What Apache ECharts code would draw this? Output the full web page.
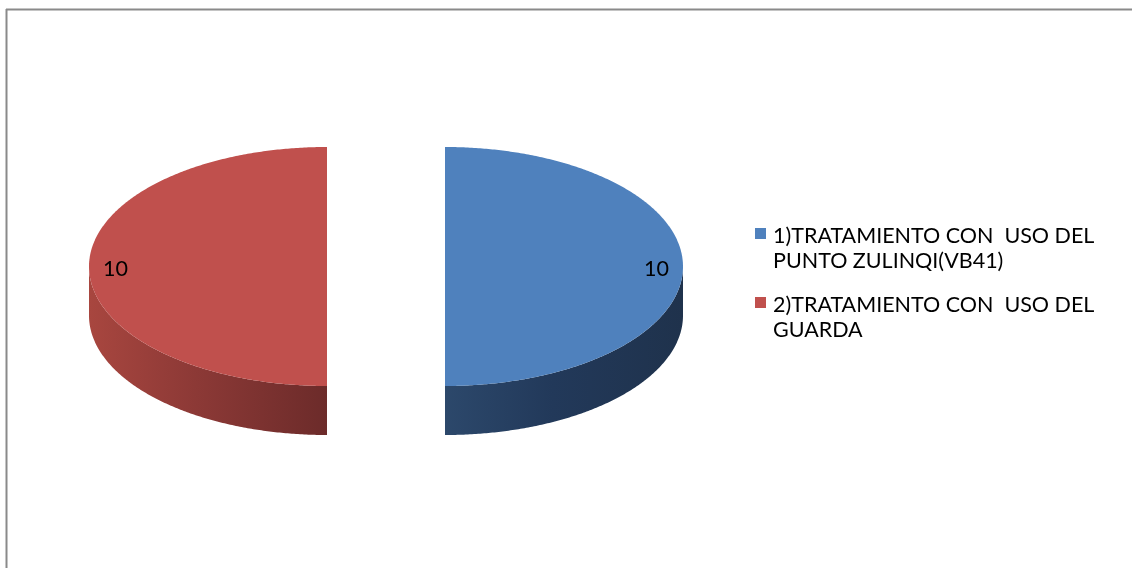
<!DOCTYPE html>
<html>
<head>
<meta charset="utf-8">
<style>
  html, body { margin: 0; padding: 0; background: #fff; }
  #chart { width: 1132px; height: 568px; }
</style>
<script src="https://cdn.jsdelivr.net/npm/echarts@6/dist/echarts.min.js"></script>
</head>
<body>
<div id="chart"></div>
<script>
// Two treatment groups, 10 patients each
const categories = [
  '1)TRATAMIENTO CON  USO DEL PUNTO ZULINQI(VB41)',
  '2)TRATAMIENTO CON  USO DEL GUARDA'
];
const values = [10, 10];
const legendLines = [
  ['1)TRATAMIENTO CON  USO DEL', 'PUNTO ZULINQI(VB41)'],
  ['2)TRATAMIENTO CON  USO DEL', 'GUARDA']
];

const topColors = ['#4f81bd', '#c0504d'];
const sideColors = [
  ['#2c486b', '#22395a', '#1f324c'],
  ['#a8463f', '#8c3936', '#6c2b2a']
];

// 3D pie geometry (pixels)
const PIE = { cx: 386, cy: 266.5, rx: 238, ry: 119.5, depth: 49, explode: 59 };
const FONT = 'Lato';
const FONT_SIZE = 21.5;

const total = values.reduce((a, b) => a + b, 0);
const slices = [];
let start = 90; // degrees, clockwise from the top
values.forEach((v, i) => {
  const sweep = v / total * 360;
  slices.push({ start: start, end: start - sweep, mid: start - sweep / 2 });
  start -= sweep;
});

const rad = d => d * Math.PI / 180;

function renderSlice(params, api) {
  const i = params.dataIndex;
  const s = slices[i];
  const m = rad(s.mid);
  const ox = PIE.cx + PIE.explode * Math.cos(m);
  const oy = PIE.cy - PIE.explode * (PIE.ry / PIE.rx) * Math.sin(m);
  const pt = (deg, dz) => [ox + PIE.rx * Math.cos(rad(deg)), oy - PIE.ry * Math.sin(rad(deg)) + (dz || 0)];

  // sample the arc
  const angles = [];
  const steps = Math.max(2, Math.ceil((s.start - s.end) / 0.5));
  for (let k = 0; k <= steps; k++) angles.push(s.start - (s.start - s.end) * k / steps);

  const children = [];

  // front-facing wall runs (lower half of the ellipse)
  let run = [];
  const runs = [];
  angles.forEach(a => {
    if (Math.sin(rad(a)) <= 1e-9) run.push(a);
    else if (run.length) { runs.push(run); run = []; }
  });
  if (run.length) runs.push(run);
  runs.forEach(r => {
    if (r.length < 2) return;
    const topPts = r.map(a => pt(a, 0));
    const botPts = r.slice().reverse().map(a => pt(a, PIE.depth));
    const c = sideColors[i];
    children.push({
      type: 'polygon',
      shape: { points: topPts.concat(botPts) },
      style: {
        fill: new echarts.graphic.LinearGradient(0, 0, 1, 0, [
          { offset: 0, color: c[0] },
          { offset: 0.45, color: c[1] },
          { offset: 1, color: c[2] }
        ])
      }
    });
  });

  // top face
  const face = [[ox, oy]].concat(angles.map(a => pt(a, 0)));
  children.push({
    type: 'polygon',
    shape: { points: face },
    style: { fill: topColors[i] }
  });

  // value label near the outer rim
  const right = Math.cos(m) >= 0;
  const lp = [ox + (PIE.rx - 14) * Math.cos(m), oy - (PIE.ry - 14) * Math.sin(m) + 2.5];
  children.push({
    type: 'text',
    x: lp[0], y: lp[1],
    style: {
      text: String(api.value(0)),
      fill: '#000',
      font: FONT_SIZE + 'px ' + FONT,
      align: right ? 'right' : 'left',
      verticalAlign: 'middle'
    }
  });

  return { type: 'group', children: children };
}

// legend block
const legendGraphics = [];
const legendX = 755, legendTop = [228, 297], lineGap = 25.5;
categories.forEach((name, i) => {
  legendGraphics.push({
    type: 'rect',
    shape: { x: legendX, y: legendTop[i], width: 11, height: 11 },
    style: { fill: topColors[i] }
  });
  legendLines[i].forEach((line, j) => {
    legendGraphics.push({
      type: 'text',
      x: legendX + 18,
      y: legendTop[i] + 8 + j * lineGap,
      style: {
        text: line, fill: '#000', font: FONT_SIZE + 'px ' + FONT,
        verticalAlign: 'middle', align: 'left'
      }
    });
  });
});

const chart = echarts.init(document.getElementById('chart'), null, { renderer: 'canvas' });
chart.setOption({
  animation: false,
  backgroundColor: '#ffffff',
  graphic: [
    { type: 'line', shape: { x1: 6, y1: 9.5, x2: 1132, y2: 9.5 }, style: { stroke: '#8a8a8a', lineWidth: 2 } },
    { type: 'line', shape: { x1: 6.5, y1: 9, x2: 6.5, y2: 568 }, style: { stroke: '#8a8a8a', lineWidth: 2 } }
  ].concat(legendGraphics),
  series: [{
    type: 'custom',
    coordinateSystem: 'none',
    renderItem: renderSlice,
    data: values.map((v, i) => ({ name: categories[i], value: [v] }))
  }]
});
</script>
</body>
</html>
